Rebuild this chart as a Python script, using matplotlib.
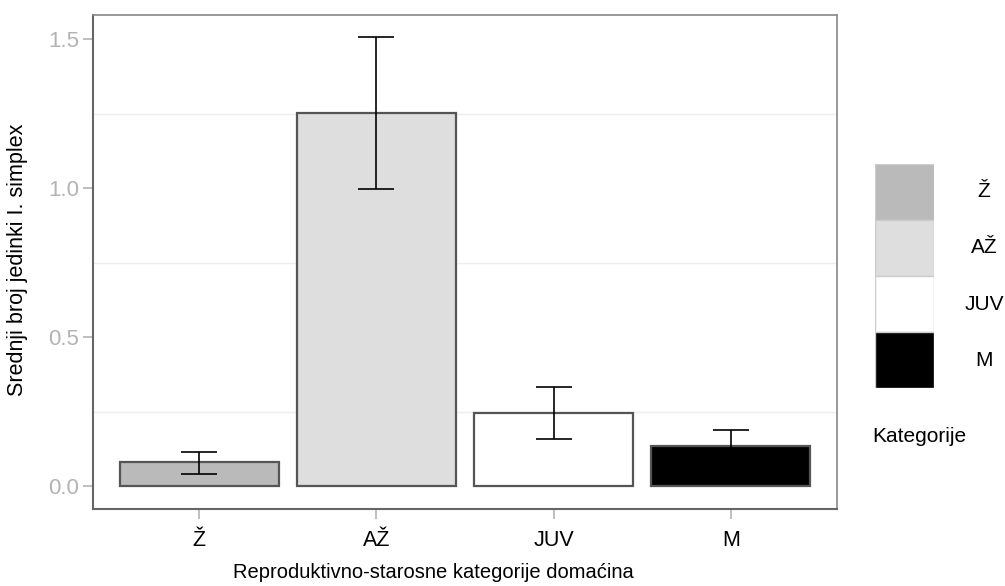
import matplotlib.pyplot as plt
from matplotlib.patches import Rectangle

plt.rcParams['font.family'] = ['Liberation Sans', 'DejaVu Sans']

categories = ['Ž', 'AŽ', 'JUV', 'M']
means = [0.08, 1.252, 0.245, 0.134]
err_low = [0.04, 0.998, 0.158, 0.08]
err_high = [0.116, 1.506, 0.332, 0.188]
fills = ['#bababa', '#dedede', '#ffffff', '#000000']
legend_title = 'Kategorije'

fig = plt.figure(figsize=(10.05, 5.86), dpi=100)
ax = fig.add_axes([93 / 1005, 1 - 509 / 586, (837 - 93) / 1005, (509 - 15) / 586])

x = list(range(len(categories)))
ax.bar(x, means, width=0.9, color=fills, edgecolor='#555555', linewidth=1.6, zorder=2)
yerr = [[m - lo for m, lo in zip(means, err_low)], [hi - m for m, hi in zip(means, err_high)]]
ax.errorbar(x, means, yerr=yerr, fmt='none', ecolor='#000000', elinewidth=1.4,
            capsize=13, capthick=1.4, alpha=0.85, zorder=3)

ax.set_xlim(-0.6, len(categories) - 0.4)
ax.set_ylim(-0.076, 1.581)
ax.set_yticks([0, 0.5, 1.0, 1.5])
ax.set_yticklabels(['0.0', '0.5', '1.0', '1.5'])
ax.set_yticks([0.25, 0.75, 1.25], minor=True)
ax.set_xticks(x)
ax.set_xticklabels(categories)
ax.grid(axis='y', which='minor', color='#eeeeee', linewidth=1, zorder=0)
ax.tick_params(axis='y', colors='#b3b3b3', labelsize=16, length=7, width=1.2, pad=3)
ax.tick_params(axis='y', which='minor', length=0)
ax.tick_params(axis='x', colors='#b3b3b3', labelcolor='black', labelsize=15.5, length=7, width=1.2, pad=8)
for side in ['top', 'right']:
    ax.spines[side].set_color('#888888')
    ax.spines[side].set_linewidth(1.2)
for side in ['left', 'bottom']:
    ax.spines[side].set_color('#666666')
    ax.spines[side].set_linewidth(1.5)

fig.text(433 / 1005, 1 - 573 / 586, 'Reproduktivno-starosne kategorije domaćina',
         ha='center', va='center', fontsize=14.5)
fig.text(18 / 1005, 1 - 260 / 586, 'Srednji broj jedinki I. simplex',
         ha='center', va='center', rotation=90, fontsize=15.5)

# legend drawn by hand: keys stacked with no gaps, title below
lax = fig.add_axes([875 / 1005, 1 - 388 / 586, (934 - 875) / 1005, (388 - 164) / 586])
lax.set_xlim(0, 1)
lax.set_ylim(len(categories), 0)
lax.axis('off')
for i, (cat, col) in enumerate(zip(categories, fills)):
    lax.add_patch(Rectangle((0, i), 1, 1, facecolor=col, edgecolor='#cccccc', linewidth=1))
    lax.text(1.85, i + 0.5, cat, ha='center', va='center', fontsize=15)
fig.text(919 / 1005, 1 - 437 / 586, legend_title, ha='center', va='center', fontsize=15)

fig.savefig('out.png', dpi=100)
